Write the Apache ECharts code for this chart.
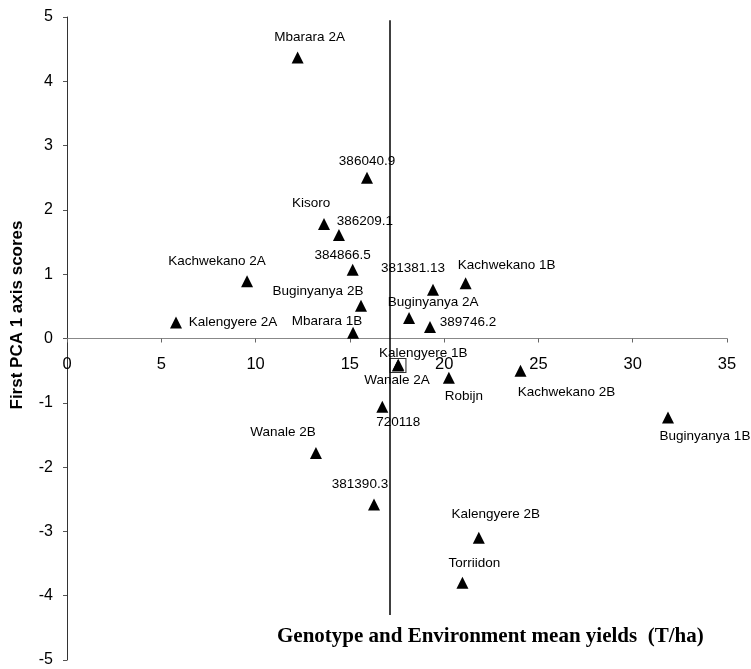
<!DOCTYPE html>
<html>
<head>
<meta charset="utf-8">
<script src="https://cdn.jsdelivr.net/npm/echarts@6/dist/echarts.min.js"></script>
<style>
html,body{margin:0;padding:0;background:#fff;}
#chart{width:751px;height:669px;}
</style>
</head>
<body>
<div id="chart"></div>
<script>
// ---- data ----
var names = ["Mbarara 2A","386040.9","Kisoro","386209.1","384866.5","Kachwekano 2A","381381.13","Kachwekano 1B","Buginyanya 2B","Buginyanya 2A","Kalengyere 2A","Mbarara 1B","389746.2","Kalengyere 1B","Wanale 2A","Robijn","Kachwekano 2B","Buginyanya 1B","720118","Wanale 2B","381390.3","Kalengyere 2B","Torriidon"];
var yields = [12.23,15.91,13.63,14.42,15.15,9.55,19.41,21.14,15.59,18.14,5.78,15.17,19.25,17.57,17.55,20.25,24.05,31.87,16.72,13.2,16.28,21.84,20.97];
var scores = [4.37,2.50,1.78,1.61,1.07,0.89,0.76,0.86,0.51,0.32,0.25,0.09,0.18,-0.41,-0.42,-0.61,-0.50,-1.23,-1.06,-1.78,-2.58,-3.10,-3.80];
var meanYield = 17.13;
var meanLineEnds = [4.95, -4.30];
var boxedPoint = "Wanale 2A";
var xTicks = [0,5,10,15,20,25,30,35];
var yTicks = [-5,-4,-3,-2,-1,0,1,2,3,4,5];

// ---- label placement (style only) ----
var labelOffsets = {
  "Mbarara 2A":[12,-20],"386040.9":[0,-16],"Kisoro":[-13,-21],"386209.1":[26,-14],
  "384866.5":[-10,-14],"Kachwekano 2A":[-30,-20],"381381.13":[-20,-21],"Kachwekano 1B":[41,-18],
  "Buginyanya 2B":[-43,-14],"Buginyanya 2A":[24,-16],"Kalengyere 2A":[57,0],"Mbarara 1B":[-26,-11],
  "389746.2":[38,-5],"Kalengyere 1B":[25,-12],"Wanale 2A":[-1,15],"Robijn":[15,19],
  "Kachwekano 2B":[46,22],"Buginyanya 1B":[37,19],"720118":[16,16],"Wanale 2B":[-33,-21],
  "381390.3":[-14,-20],"Kalengyere 2B":[17,-24],"Torriidon":[12,-20]
};

var pts = names.map(function(n,i){
  return {
    name:n, value:[yields[i],scores[i]],
    label:{show:true,position:'inside',offset:labelOffsets[n]||[0,-18],formatter:n}
  };
});
var bi = names.indexOf(boxedPoint);

var GRID_TOP = 17, GRID_H = 643;
var chart = echarts.init(document.getElementById('chart'));
chart.setOption({
  animation:false,
  backgroundColor:'#fff',
  grid:{left:67,right:24,top:GRID_TOP,height:GRID_H,outerBoundsMode:'none',containLabel:false},
  xAxis:{
    type:'value',min:xTicks[0],max:xTicks[xTicks.length-1],interval:5,position:'bottom',
    offset:-GRID_H*(0-yTicks[0])/(yTicks[yTicks.length-1]-yTicks[0]),
    axisLine:{onZero:false,lineStyle:{color:'#888',width:1}},
    axisTick:{show:true,length:4,lineStyle:{color:'#666'}},
    axisLabel:{margin:17,fontSize:16.5,color:'#000',fontFamily:'Liberation Sans, Arial'},
    splitLine:{show:false}
  },
  yAxis:{
    type:'value',min:yTicks[0],max:yTicks[yTicks.length-1],interval:1,
    axisLine:{onZero:false,lineStyle:{color:'#333',width:1}},
    axisTick:{show:true,length:4,lineStyle:{color:'#555'}},
    axisLabel:{margin:14,fontSize:16,color:'#000',fontFamily:'Liberation Sans, Arial'},
    splitLine:{show:false}
  },
  title:{
    text:'Genotype and Environment mean yields  (T/ha)',
    left:277,top:626,padding:0,
    textStyle:{fontFamily:'Liberation Serif, Times New Roman',fontWeight:'bold',fontSize:21,color:'#000'}
  },
  graphic:[{
    type:'text',x:17,y:315,rotation:Math.PI/2,
    style:{text:'First PCA 1 axis scores',font:'bold 17px "Liberation Sans", Arial',fill:'#000',align:'center',verticalAlign:'middle'}
  }],
  series:[
    {
      type:'scatter',symbol:'triangle',symbolSize:12,
      itemStyle:{color:'#000',opacity:1},
      label:{color:'#000',fontSize:13.5,fontFamily:'Liberation Sans, Arial'},
      data:pts,
      markLine:{
        silent:true,symbol:['none','none'],
        lineStyle:{color:'#000',width:1.5,type:'solid'},
        label:{show:false},
        data:[[{coord:[meanYield,meanLineEnds[0]]},{coord:[meanYield,meanLineEnds[1]]}]]
      }
    },
    {
      type:'scatter',symbol:'rect',symbolSize:[16,14],
      itemStyle:{color:'rgba(0,0,0,0)',borderColor:'#000',borderWidth:1},
      data:[[yields[bi],scores[bi]]],z:1
    }
  ]
});
</script>
</body>
</html>
